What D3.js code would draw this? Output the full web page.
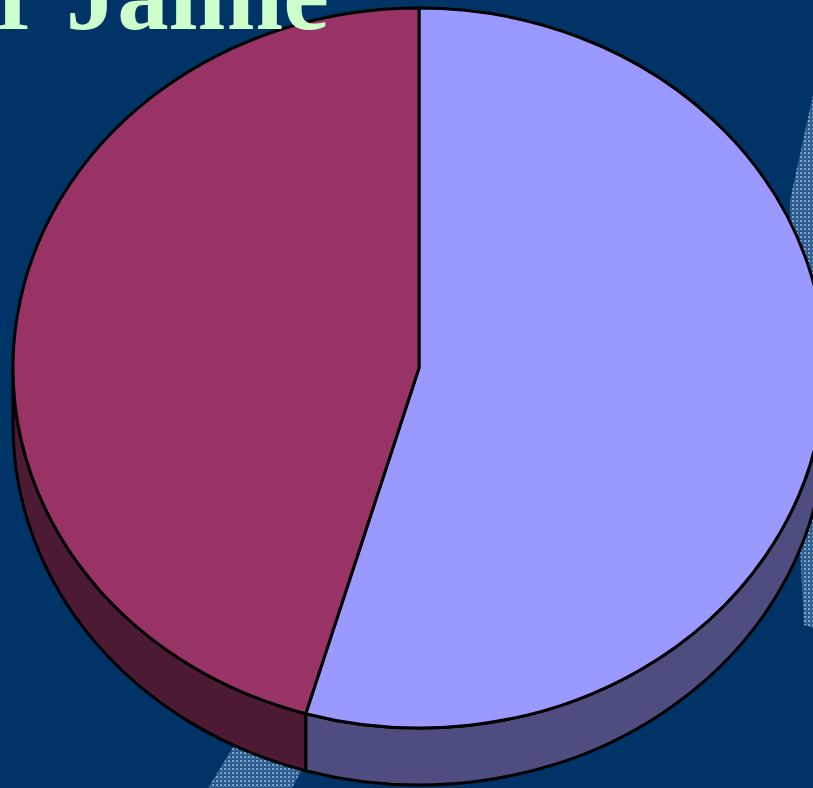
<!DOCTYPE html>
<html><head><meta charset="utf-8">
<script src="https://cdn.jsdelivr.net/npm/d3@7/dist/d3.min.js"></script>
<style>html,body{margin:0;padding:0;background:#003366;overflow:hidden}</style>
</head><body>
<svg id="c" width="813" height="788"></svg>
<script>
const categories = ["A", "B"];
const values = [54.5, 45.5];
const topColors = ["#9999FF", "#993366"];
const sideColors = ["#4D4D80", "#4D1A33"];
const titleText = "r Jaime";

const W = 813, H = 788;
const cx = 419, cy = 368, rx = 406, ry = 360, depth = 57;
const svg = d3.select("#c");

svg.append("rect").attr("width", W).attr("height", H).attr("fill", "#003366");

const defs = svg.append("defs");
const pat = defs.append("pattern").attr("id", "hatch").attr("patternUnits", "userSpaceOnUse")
  .attr("width", 4).attr("height", 4);
pat.append("rect").attr("width", 4).attr("height", 4).attr("fill", "#2A5A8A");
pat.append("rect").attr("x", 0).attr("y", 0).attr("width", 2).attr("height", 2).attr("fill", "#7FA3CC");
pat.append("rect").attr("x", 2).attr("y", 2).attr("width", 1).attr("height", 1).attr("fill", "#5C86B3");

// decorative textured bands
svg.append("path").attr("d", "M813,95 L790,200 L794,430 L804,625 L813,628 Z").attr("fill", "url(#hatch)");
svg.append("path").attr("d", "M208,788 L262,700 L340,700 L292,788 Z").attr("fill", "url(#hatch)");

const pie = d3.pie().sort(null).startAngle(0).endAngle(2 * Math.PI)(values);
const P = a => [cx + rx * Math.sin(a), cy - ry * Math.cos(a)];

const g = svg.append("g");
// sides (front half: PI/2 .. 3PI/2)
pie.forEach((d, i) => {
  const a0 = Math.max(d.startAngle, Math.PI / 2), a1 = Math.min(d.endAngle, 3 * Math.PI / 2);
  if (a1 <= a0) return;
  const p0 = P(a0), p1 = P(a1);
  const s = `M${p0[0]},${p0[1]} A${rx},${ry} 0 0 1 ${p1[0]},${p1[1]} L${p1[0]},${p1[1] + depth} A${rx},${ry} 0 0 0 ${p0[0]},${p0[1] + depth} Z`;
  g.append("path").attr("d", s).attr("fill", sideColors[i])
    .attr("stroke", "#000").attr("stroke-width", 3).attr("stroke-linejoin", "round");
});
// tops
pie.forEach((d, i) => {
  const p0 = P(d.startAngle), p1 = P(d.endAngle);
  const large = (d.endAngle - d.startAngle) > Math.PI ? 1 : 0;
  const s = `M${cx},${cy} L${p0[0]},${p0[1]} A${rx},${ry} 0 ${large} 1 ${p1[0]},${p1[1]} Z`;
  g.append("path").attr("d", s).attr("fill", topColors[i])
    .attr("stroke", "#000").attr("stroke-width", 3).attr("stroke-linejoin", "round");
});

svg.append("text").attr("x", 329).attr("y", 29).attr("text-anchor", "end")
  .attr("font-family", "'Liberation Serif', 'Times New Roman', serif")
  .attr("font-weight", "bold").attr("font-size", 103).attr("fill", "#CCFFCC")
  .text(titleText);
</script>
</body></html>
